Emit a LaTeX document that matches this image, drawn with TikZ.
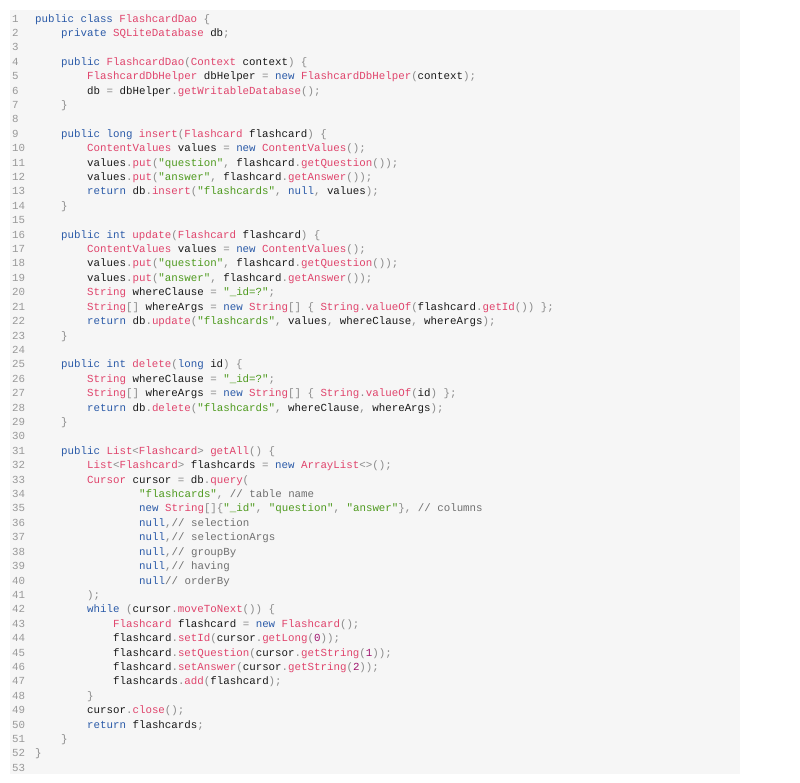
\documentclass[tikz,border=0pt]{standalone}
\usepackage{fontspec}
\setmonofont{Liberation Mono}
\definecolor{kw}{HTML}{2A5AA8}
\definecolor{ty}{HTML}{E0446C}
\definecolor{st}{HTML}{4E9A1E}
\definecolor{pu}{HTML}{8A8A8A}
\definecolor{nu}{HTML}{A0146E}
\definecolor{cm}{HTML}{707070}
\definecolor{lnum}{HTML}{999999}
\definecolor{bgc}{HTML}{F6F6F6}
\newcommand\K[1]{\textcolor{kw}{#1}}
\newcommand\T[1]{\textcolor{ty}{#1}}
\newcommand\Sx[1]{\textcolor{st}{#1}}
\newcommand\Px[1]{\textcolor{pu}{#1}}
\newcommand\Nx[1]{\textcolor{nu}{#1}}
\newcommand\Cx[1]{\textcolor{cm}{#1}}
\tikzset{code/.style={inner sep=0pt,anchor=base west,font=\ttfamily\fontsize{10.8}{12}\selectfont,text=black!90},
num/.style={code,text=lnum}}
\newcommand\cl[3]{\node[code] (l#1) at ({35+#2*6.5},{22+(#1-1)*14.41}) {#3};\node[num] (n#1) at (12,{22+(#1-1)*14.41}) {#1};}
\newcommand\el[1]{\node[num] (n#1) at (12,{22+(#1-1)*14.41}) {#1};}
\begin{document}
\begin{tikzpicture}[x=1pt,y=-1pt]
\useasboundingbox (0,0) rectangle (800,782);
\fill[bgc] (10,10) rectangle (740,774);
\cl{1}{0}{\K{public class} \T{FlashcardDao} \Px{\{}}
\cl{2}{4}{\K{private} \T{SQLiteDatabase} db\Px{;}}
\el{3}
\cl{4}{4}{\K{public} \T{FlashcardDao}\Px{(}\T{Context} context\Px{) \{}}
\cl{5}{8}{\T{FlashcardDbHelper} dbHelper \Px{=} \K{new} \T{FlashcardDbHelper}\Px{(}context\Px{);}}
\cl{6}{8}{db \Px{=} dbHelper\Px{.}\T{getWritableDatabase}\Px{();}}
\cl{7}{4}{\Px{\}}}
\el{8}
\cl{9}{4}{\K{public long} \T{insert}\Px{(}\T{Flashcard} flashcard\Px{) \{}}
\cl{10}{8}{\T{ContentValues} values \Px{=} \K{new} \T{ContentValues}\Px{();}}
\cl{11}{8}{values\Px{.}\T{put}\Px{(}\Sx{"question"}\Px{,} flashcard\Px{.}\T{getQuestion}\Px{());}}
\cl{12}{8}{values\Px{.}\T{put}\Px{(}\Sx{"answer"}\Px{,} flashcard\Px{.}\T{getAnswer}\Px{());}}
\cl{13}{8}{\K{return} db\Px{.}\T{insert}\Px{(}\Sx{"flashcards"}\Px{,} \K{null}\Px{,} values\Px{);}}
\cl{14}{4}{\Px{\}}}
\el{15}
\cl{16}{4}{\K{public int} \T{update}\Px{(}\T{Flashcard} flashcard\Px{) \{}}
\cl{17}{8}{\T{ContentValues} values \Px{=} \K{new} \T{ContentValues}\Px{();}}
\cl{18}{8}{values\Px{.}\T{put}\Px{(}\Sx{"question"}\Px{,} flashcard\Px{.}\T{getQuestion}\Px{());}}
\cl{19}{8}{values\Px{.}\T{put}\Px{(}\Sx{"answer"}\Px{,} flashcard\Px{.}\T{getAnswer}\Px{());}}
\cl{20}{8}{\T{String} whereClause \Px{=} \Sx{"\_id=?"}\Px{;}}
\cl{21}{8}{\T{String}\Px{[]} whereArgs \Px{=} \K{new} \T{String}\Px{[] \{} \T{String}\Px{.}\T{valueOf}\Px{(}flashcard\Px{.}\T{getId}\Px{()) \};}}
\cl{22}{8}{\K{return} db\Px{.}\T{update}\Px{(}\Sx{"flashcards"}\Px{,} values\Px{,} whereClause\Px{,} whereArgs\Px{);}}
\cl{23}{4}{\Px{\}}}
\el{24}
\cl{25}{4}{\K{public int} \T{delete}\Px{(}\K{long} id\Px{) \{}}
\cl{26}{8}{\T{String} whereClause \Px{=} \Sx{"\_id=?"}\Px{;}}
\cl{27}{8}{\T{String}\Px{[]} whereArgs \Px{=} \K{new} \T{String}\Px{[] \{} \T{String}\Px{.}\T{valueOf}\Px{(}id\Px{) \};}}
\cl{28}{8}{\K{return} db\Px{.}\T{delete}\Px{(}\Sx{"flashcards"}\Px{,} whereClause\Px{,} whereArgs\Px{);}}
\cl{29}{4}{\Px{\}}}
\el{30}
\cl{31}{4}{\K{public} \T{List}\Px{<}\T{Flashcard}\Px{>} \T{getAll}\Px{() \{}}
\cl{32}{8}{\T{List}\Px{<}\T{Flashcard}\Px{>} flashcards \Px{=} \K{new} \T{ArrayList}\Px{<>();}}
\cl{33}{8}{\T{Cursor} cursor \Px{=} db\Px{.}\T{query}\Px{(}}
\cl{34}{16}{\Sx{"flashcards"}\Px{,} \Cx{// table name}}
\cl{35}{16}{\K{new} \T{String}\Px{[]\{}\Sx{"\_id"}\Px{,} \Sx{"question"}\Px{,} \Sx{"answer"}\Px{\},} \Cx{// columns}}
\cl{36}{16}{\K{null}\Px{,}\Cx{// selection}}
\cl{37}{16}{\K{null}\Px{,}\Cx{// selectionArgs}}
\cl{38}{16}{\K{null}\Px{,}\Cx{// groupBy}}
\cl{39}{16}{\K{null}\Px{,}\Cx{// having}}
\cl{40}{16}{\K{null}\Cx{// orderBy}}
\cl{41}{8}{\Px{);}}
\cl{42}{8}{\K{while} \Px{(}cursor\Px{.}\T{moveToNext}\Px{()) \{}}
\cl{43}{12}{\T{Flashcard} flashcard \Px{=} \K{new} \T{Flashcard}\Px{();}}
\cl{44}{12}{flashcard\Px{.}\T{setId}\Px{(}cursor\Px{.}\T{getLong}\Px{(}\Nx{0}\Px{));}}
\cl{45}{12}{flashcard\Px{.}\T{setQuestion}\Px{(}cursor\Px{.}\T{getString}\Px{(}\Nx{1}\Px{));}}
\cl{46}{12}{flashcard\Px{.}\T{setAnswer}\Px{(}cursor\Px{.}\T{getString}\Px{(}\Nx{2}\Px{));}}
\cl{47}{12}{flashcards\Px{.}\T{add}\Px{(}flashcard\Px{);}}
\cl{48}{8}{\Px{\}}}
\cl{49}{8}{cursor\Px{.}\T{close}\Px{();}}
\cl{50}{8}{\K{return} flashcards\Px{;}}
\cl{51}{4}{\Px{\}}}
\cl{52}{0}{\Px{\}}}
\el{53}
\end{tikzpicture}
\end{document}
